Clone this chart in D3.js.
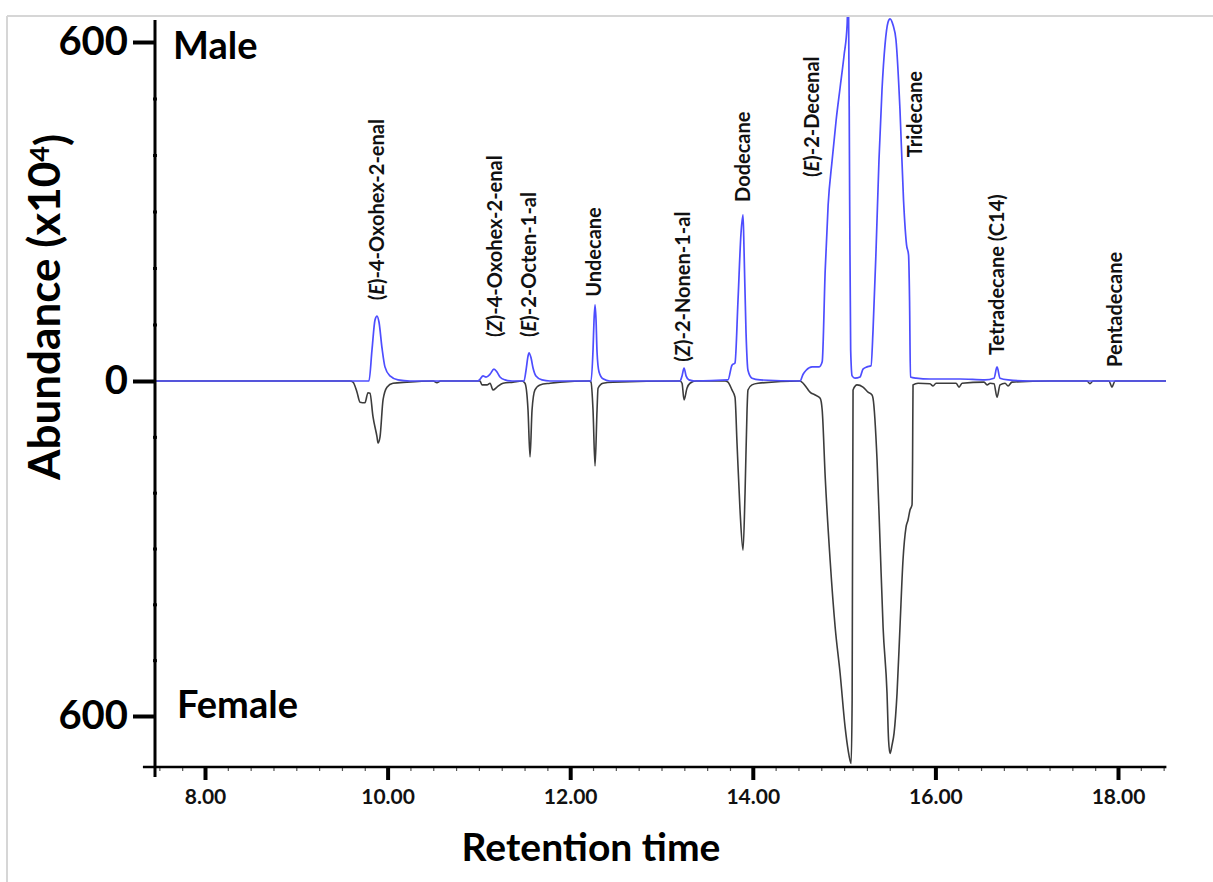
<!DOCTYPE html>
<html>
<head>
<meta charset="utf-8">
<script src="https://cdn.jsdelivr.net/npm/d3@7"></script>
<style>
  body { margin: 0; background: #fff; }
  svg { display: block; font-family: Lato, "Open Sans", sans-serif; }
</style>
</head>
<body>
<svg id="chart" width="1213" height="882"></svg>
<script>
// Total ion chromatograms: male (upward, blue) and female (mirrored, grey)
// [retention time (min), abundance (x10^4)]
const maleTrace = [
  [7.45,0],[9.70,0],[9.796,0],[9.829,55],[9.862,108],[9.884,115],[9.906,104],[9.939,58],
  [9.971,25],[10.026,9],[10.114,2],[10.245,0],
  [10.990,0],[11.012,3],[11.045,9],[11.078,7],[11.122,12],[11.165,21],[11.198,16],[11.231,7],
  [11.286,2],[11.363,0],
  [11.494,0],[11.516,19],[11.538,44],[11.549,50],[11.571,41],[11.593,23],[11.625,9],[11.691,2],[11.779,0],
  [12.228,0],[12.250,55],[12.261,108],[12.272,135],[12.283,108],[12.294,51],[12.316,16],[12.359,4],[12.436,0],
  [13.203,0],[13.225,9],[13.247,23],[13.269,9],[13.301,2],[13.367,0],
  [13.728,2],[13.772,28],[13.805,32],[13.838,143],[13.871,262],[13.893,294],[13.904,232],[13.926,85],
  [13.947,19],[13.991,5],[14.079,2],
  [14.517,0],[14.551,12],[14.584,19],[14.650,25],[14.727,25],[14.760,34],[14.793,196],[14.825,311],
  [14.869,391],[14.913,462],[14.956,519],[15.000,577],[15.033,630],[15.047,700],[15.061,320],
  [15.072,55],[15.088,9],[15.119,5],[15.174,7],[15.207,21],[15.251,25],[15.295,27],
  [15.317,90],[15.350,232],[15.382,391],[15.415,515],[15.448,595],[15.481,635],[15.503,641],
  [15.536,630],[15.568,604],[15.612,480],[15.651,320],[15.684,241],[15.706,223],[15.717,143],
  [15.727,7],[15.788,5],[15.941,3.5],[16.270,3.5],[16.543,2],[16.642,5],[16.675,25],[16.708,5],
  [16.796,2],[17.036,0],[18.526,0]
];

const femaleTrace = [
  [7.45,0],[9.588,0],[9.621,2],[9.665,20],[9.698,38],[9.752,39],[9.785,21],[9.807,22],[9.840,64],
  [9.884,100],[9.895,111],[9.917,100],[9.950,34],[9.993,11],[10.059,4],[10.212,2],
  [10.50,0],[10.54,3],[10.58,0],
  [10.990,0],[11.012,0],[11.034,7],[11.089,7],[11.122,4],[11.154,16],[11.198,11],[11.264,4],[11.374,2],
  [11.472,0],[11.505,4],[11.538,52],[11.560,136],[11.582,52],[11.614,16],[11.669,7],[11.779,4],[11.888,2],
  [12.206,0],[12.228,2],[12.250,52],[12.272,152],[12.294,52],[12.305,13],[12.359,4],[12.469,2],
  [13.203,0],[13.225,4],[13.247,34],[13.279,13],[13.312,4],[13.378,0],
  [13.696,0],[13.728,2],[13.772,16],[13.805,29],[13.827,111],[13.860,231],[13.893,303],[13.915,201],
  [13.937,52],[13.947,16],[13.991,7],[14.057,4],
  [14.517,0],[14.551,4],[14.594,13],[14.627,20],[14.683,25],[14.738,31],[14.760,52],[14.793,172],
  [14.847,321],[14.902,441],[14.956,523],[15.011,620],[15.044,661],[15.077,685],[15.088,572],
  [15.098,16],[15.142,7],[15.207,11],[15.262,20],[15.306,25],[15.317,31],[15.361,142],[15.394,290],
  [15.427,441],[15.470,559],[15.487,643],[15.503,667],[15.525,652],[15.547,631],[15.580,559],
  [15.612,441],[15.645,321],[15.678,262],[15.700,249],[15.722,231],[15.744,222],[15.750,142],
  [15.755,7],[15.810,4],[15.941,5],[15.974,9],[16.007,4],[16.226,4],[16.259,11],[16.292,4],
  [16.533,2],[16.566,7],[16.599,4],[16.642,5],[16.675,29],[16.708,7],[16.763,4],[16.796,9],
  [16.839,2],[17.255,0],[17.660,0],[17.693,5],[17.726,0],[17.901,0],[17.934,11],[17.967,0],[18.526,0]
];

// Compound annotations: italic stereo-descriptor, rest of name, retention time, label base level
const peakPrefixes = ["E", "Z", "E", "", "Z", "", "E", "", "", ""];
const peakNames = ["-4-Oxohex-2-enal", "-4-Oxohex-2-enal", "-2-Octen-1-al", "Undecane",
  "-2-Nonen-1-al", "Dodecane", "-2-Decenal", "Tridecane", "Tetradecane (C14)", "Pentadecane"];
const peakTimes = [9.884, 11.176, 11.549, 12.261, 13.236, 13.893, 14.648, 15.776, 16.675, 17.967];
const labelLevels = [143, 78, 78, 149, 34, 317, 361, 396, 46, 25];

const xTickValues = [8, 10, 12, 14, 16, 18];
const yTickValues = [-600, 0, 600];

const svg = d3.select("#chart");

// Scales: male abundance upward from the zero line, female abundance downward
const x = d3.scaleLinear().domain([8, 18]).range([205, 1118]);
const y = d3.scaleLinear().domain([-600, 0, 600]).range([716, 381, 42]);

const axisX0 = 7.32, axisX1 = 18.53;
const yAxisX = 155, xAxisY = 767;

// light frame
svg.append("line").attr("x1", 7).attr("x2", 1213).attr("y1", 16).attr("y2", 16)
  .attr("stroke", "#d6d6d6").attr("stroke-width", 2);
svg.append("line").attr("x1", 7).attr("x2", 7).attr("y1", 16).attr("y2", 882)
  .attr("stroke", "#d6d6d6").attr("stroke-width", 2);

// plot clip
svg.append("defs").append("clipPath").attr("id", "plotClip")
  .append("rect").attr("x", yAxisX).attr("y", 17).attr("width", x(axisX1) - yAxisX).attr("height", xAxisY - 17);

const line = d3.line()
  .x(d => x(d[0]))
  .y(d => y(d[1]))
  .curve(d3.curveMonotoneX);

const traces = svg.append("g").attr("clip-path", "url(#plotClip)");
traces.append("path")
  .datum(femaleTrace.map(d => [d[0], -d[1]]))
  .attr("d", line)
  .attr("fill", "none")
  .attr("stroke", "#3c3c3c")
  .attr("stroke-width", 1.6)
  .attr("stroke-linejoin", "round");
traces.append("path")
  .datum(maleTrace)
  .attr("d", line)
  .attr("fill", "none")
  .attr("stroke", "#4d4dff")
  .attr("stroke-width", 1.7)
  .attr("stroke-linejoin", "round");

// X axis
const gx = svg.append("g").attr("transform", `translate(0,${xAxisY})`);
gx.call(d3.axisBottom(x).tickValues(d3.range(7.5, 18.51, 0.25).filter(v => v % 2 !== 0)).tickSize(4).tickFormat(""))
  .call(g => g.select(".domain").remove())
  .call(g => g.selectAll(".tick line").attr("stroke", "#555").attr("stroke-width", 1.2));
const gxMajor = svg.append("g").attr("transform", `translate(0,${xAxisY})`);
gxMajor.call(d3.axisBottom(x).tickValues(xTickValues).tickSize(13).tickPadding(9).tickFormat(d3.format(".2f")))
  .call(g => g.select(".domain").remove())
  .call(g => g.selectAll(".tick line").attr("stroke", "#000").attr("stroke-width", 4))
  .call(g => g.selectAll(".tick text").attr("font-family", "Lato, sans-serif")
    .attr("font-size", 21).attr("font-weight", "bold").attr("fill", "#111"));
svg.append("line").attr("x1", x(axisX0)).attr("x2", x(axisX1)).attr("y1", xAxisY).attr("y2", xAxisY)
  .attr("stroke", "#000").attr("stroke-width", 2.5);

// Y axis
const gyMinor = svg.append("g").attr("transform", `translate(${yAxisX + 2},0)`);
gyMinor.call(d3.axisLeft(y).tickValues(d3.range(-600, 601, 100).filter(v => v % 600 !== 0)).tickSize(4).tickFormat(""))
  .call(g => g.select(".domain").remove())
  .call(g => g.selectAll(".tick line").attr("stroke", "#111").attr("stroke-width", 3));
const gy = svg.append("g").attr("transform", `translate(${yAxisX},0)`);
gy.call(d3.axisLeft(y).tickValues(yTickValues).tickSize(22).tickPadding(5).tickFormat(d => Math.abs(d)))
  .call(g => g.select(".domain").remove())
  .call(g => g.selectAll(".tick line").attr("stroke", "#000").attr("stroke-width", 4))
  .call(g => g.selectAll(".tick text").attr("font-family", "Lato, sans-serif")
    .attr("font-size", 40).attr("font-weight", "bold").attr("fill", "#000"));
svg.append("line").attr("x1", yAxisX).attr("x2", yAxisX).attr("y1", 20).attr("y2", 777)
  .attr("stroke", "#000").attr("stroke-width", 3);

// Sex labels
svg.append("text").attr("x", 173).attr("y", 59).text("Male")
  .attr("font-size", 38).attr("font-weight", "bold").attr("fill", "#000");
svg.append("text").attr("x", 177).attr("y", 718).text("Female")
  .attr("font-size", 38).attr("font-weight", "bold").attr("fill", "#000");

// Axis titles
svg.append("text").attr("x", 591).attr("y", 861).attr("text-anchor", "middle")
  .attr("font-size", 39).attr("font-weight", "bold").attr("fill", "#000").text("Retention time");
const yTitle = svg.append("text").attr("transform", "translate(60,307) rotate(-90)")
  .attr("text-anchor", "middle").attr("font-size", 44).attr("font-weight", "bold").attr("fill", "#000");
yTitle.append("tspan").text("Abundance (x10");
yTitle.append("tspan").attr("dy", "-0.4em").attr("font-size", 27).text("4");
yTitle.append("tspan").attr("dy", "0.4em").text(")");

// Peak labels
const labels = svg.append("g").attr("font-size", 20).attr("font-weight", "bold").attr("fill", "#111");
peakNames.forEach((name, i) => {
  const t = labels.append("text")
    .attr("transform", `translate(${x(peakTimes[i])},${y(labelLevels[i])}) rotate(-90)`)
    .attr("dy", "0.35em");
  if (peakPrefixes[i]) {
    t.append("tspan").text("(");
    t.append("tspan").attr("font-style", "italic").text(peakPrefixes[i]);
    t.append("tspan").text(")");
  }
  t.append("tspan").text(name);
});
</script>
</body>
</html>
